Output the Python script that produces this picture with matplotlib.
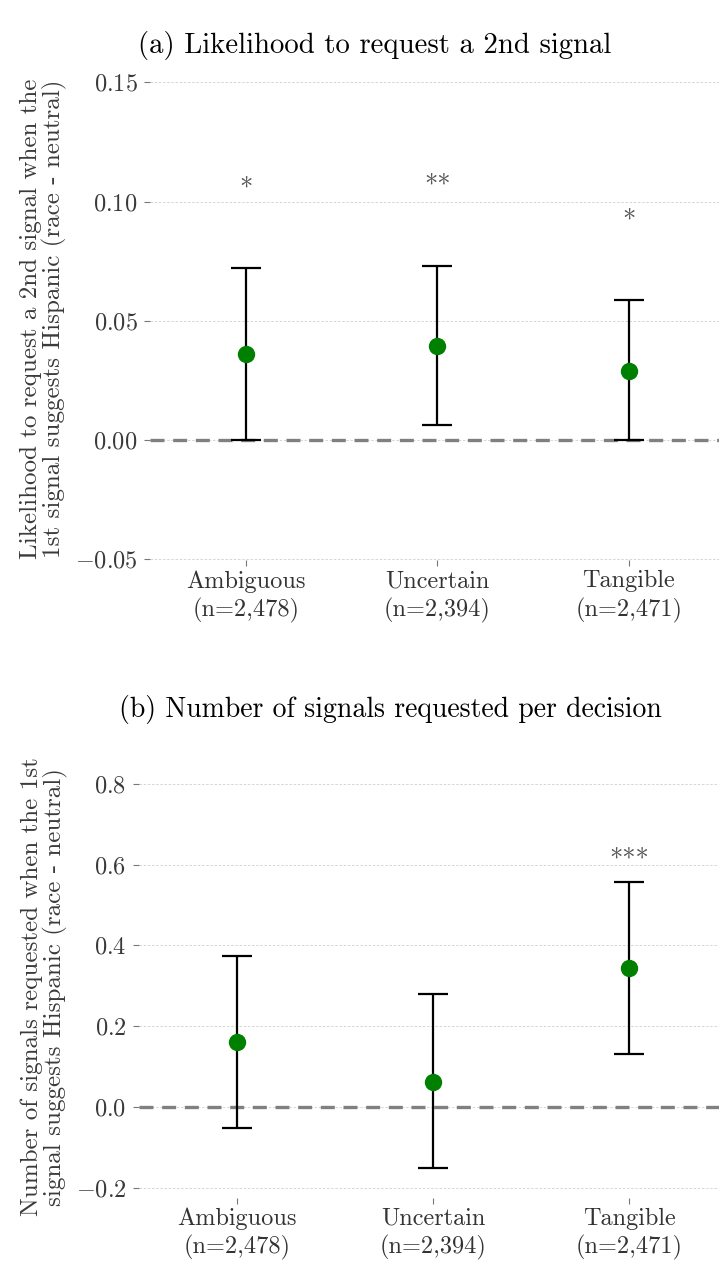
import matplotlib
matplotlib.use("Agg")
import matplotlib.pyplot as plt
import numpy as np

plt.rcParams['font.family'] = 'serif'
plt.rcParams['font.serif'] = ['cmr10']
plt.rcParams['mathtext.fontset'] = 'cm'
plt.rcParams['axes.formatter.use_mathtext'] = True

categories = ["Ambiguous\n(n=2,478)", "Uncertain\n(n=2,394)", "Tangible\n(n=2,471)"]

# Panel (a)
a_mean = [0.0361, 0.0394, 0.0289]
a_low = [0.0002, 0.0063, -0.0002]
a_high = [0.0721, 0.0731, 0.0587]
a_stars = ["*", "**", "*"]
a_yticks = [-0.05, 0.0, 0.05, 0.10, 0.15]

# Panel (b)
b_mean = [0.161, 0.062, 0.344]
b_low = [-0.052, -0.151, 0.131]
b_high = [0.374, 0.280, 0.557]
b_stars = ["", "", "***"]
b_yticks = [-0.2, 0.0, 0.2, 0.4, 0.6, 0.8]

W, H = 719, 1262
fig = plt.figure(figsize=(W / 100, H / 100), dpi=100)

TXT = '#3a3a3a'

def panel(rect, mean, low, high, stars, yticks, ylim, star_off, title, title_xy, title_fs, ylabel, ylab_x):
    ax = fig.add_axes(rect)
    x = np.arange(len(mean))
    mean = np.array(mean); low = np.array(low); high = np.array(high)
    yerr = np.vstack([mean - low, high - mean])
    ax.axhline(0, color='#808080', lw=2.4, ls=(0, (4.2, 2.6)), zorder=2)
    ax.errorbar(x, mean, yerr=yerr, fmt='o', color='green', ecolor='black',
                elinewidth=1.6, capsize=10.5, capthick=1.6, markersize=11.5, zorder=3)
    for xi, hi, s in zip(x, high, stars):
        if s:
            ax.text(xi, hi + star_off, s, ha='center', va='center', fontsize=19, color='#555555')
    ax.set_xlim(-0.5, 2.5)
    ax.set_ylim(*ylim)
    ax.set_yticks(yticks)
    ax.set_xticks(x)
    ax.set_xticklabels(categories, fontsize=17.5, color='#333333', linespacing=1.28)
    ax.tick_params(axis='y', labelsize=17.5, labelcolor=TXT, length=4, width=0.8, color='#777777', pad=5)
    ax.tick_params(axis='x', length=4, width=0.8, color='#777777', pad=3)
    for sp in ax.spines.values():
        sp.set_visible(False)
    ax.grid(axis='y', color='#d0d0d0', ls=(0, (3, 2)), lw=0.6, zorder=0)
    ax.set_axisbelow(True)
    ax.set_ylabel(ylabel, fontsize=18, color=TXT, linespacing=1.0)
    ax.yaxis.set_label_coords(ylab_x, 0.5)
    fig.text(title_xy[0], title_xy[1], title, ha='center', va='center', fontsize=title_fs, color='black')
    return ax

# top panel
panel([150 / W, 1 - 560.4 / H, 574.5 / W, 482.8 / H],
      a_mean, a_low, a_high, a_stars, a_yticks, (-0.0505, 0.152), 0.0335,
      "(a) Likelihood to request a 2nd signal", (375 / W, 1 - 45 / H), 20.7,
      "Likelihood to request a 2nd signal when the\n1st signal suggests Hispanic (race - neutral)",
      -0.1445)

# bottom panel
panel([139 / W, 1 - 1197.9 / H, 588 / W, 422.2 / H],
      b_mean, b_low, b_high, b_stars, b_yticks, (-0.225, 0.82), 0.055,
      "(b) Number of signals requested per decision", (390 / W, 1 - 710 / H), 20.0,
      "Number of signals requested when the 1st\nsignal suggests Hispanic (race - neutral)",
      -0.12)

fig.savefig("out.png", dpi=100)
